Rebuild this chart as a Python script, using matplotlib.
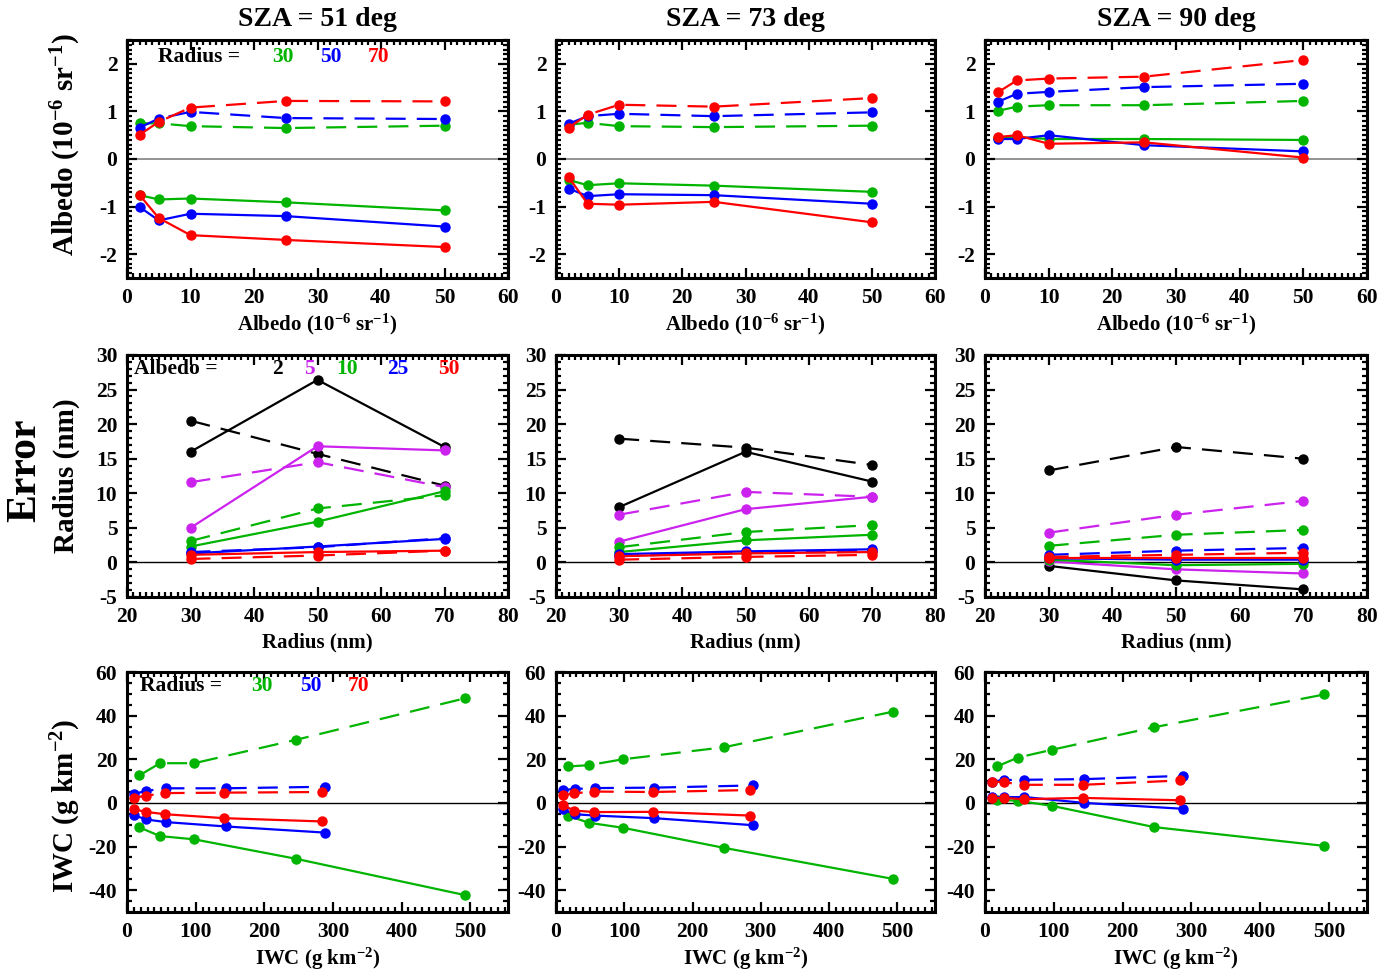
import matplotlib
matplotlib.use('Agg')
import matplotlib.pyplot as plt
from matplotlib.ticker import MultipleLocator

plt.rcParams['font.family'] = ['Liberation Serif', 'DejaVu Serif']
plt.rcParams['font.weight'] = 'bold'
plt.rcParams['axes.labelweight'] = 'bold'
plt.rcParams['axes.titleweight'] = 'bold'
plt.rcParams['mathtext.fontset'] = 'custom'
plt.rcParams['mathtext.rm'] = 'Liberation Serif:bold'
plt.rcParams['mathtext.bf'] = 'Liberation Serif:bold'
plt.rcParams['mathtext.it'] = 'Liberation Serif:bold:italic'
plt.rcParams['axes.unicode_minus'] = False

# ---- data ----
sza_titles = ['SZA = 51 deg', 'SZA = 73 deg', 'SZA = 90 deg']

# top row: error vs albedo, one list per radius (30, 50, 70)
albedo_x = [2, 5, 10, 25, 50]
alb51_dash = [[0.75, 0.75, 0.69, 0.65, 0.70],
              [0.66, 0.85, 0.99, 0.86, 0.84],
              [0.51, 0.78, 1.08, 1.22, 1.21]]
alb51_solid = [[-0.76, -0.85, -0.83, -0.91, -1.08],
               [-1.01, -1.29, -1.15, -1.20, -1.42],
               [-0.76, -1.24, -1.60, -1.70, -1.85]]
alb73_dash = [[0.72, 0.76, 0.69, 0.67, 0.70],
              [0.74, 0.90, 0.95, 0.90, 0.98],
              [0.66, 0.93, 1.14, 1.10, 1.28]]
alb73_solid = [[-0.44, -0.55, -0.51, -0.56, -0.69],
               [-0.62, -0.78, -0.74, -0.76, -0.94],
               [-0.38, -0.94, -0.96, -0.90, -1.33]]
alb90_dash = [[1.01, 1.10, 1.13, 1.13, 1.22],
              [1.20, 1.37, 1.41, 1.51, 1.58],
              [1.40, 1.65, 1.69, 1.73, 2.08]]
alb90_solid = [[0.44, 0.46, 0.42, 0.42, 0.40],
               [0.42, 0.42, 0.50, 0.29, 0.16],
               [0.46, 0.50, 0.32, 0.35, 0.03]]

# middle row: error vs radius, one list per albedo (2, 5, 10, 25, 50)
radius_x = [30, 50, 70]
rad51_dash = [[20.5, 15.7, 11.1], [11.6, 14.5, 10.9], [3.1, 7.8, 9.7],
              [1.5, 2.2, 3.5], [0.5, 1.0, 1.7]]
rad51_solid = [[16.0, 26.4, 16.7], [5.0, 16.8, 16.2], [2.3, 5.9, 10.3],
               [1.3, 2.3, 3.4], [1.1, 1.5, 1.7]]
rad73_dash = [[17.9, 16.6, 14.1], [6.9, 10.2, 9.5], [2.2, 4.4, 5.4],
              [0.9, 1.5, 1.7], [0.4, 0.8, 1.1]]
rad73_solid = [[8.0, 16.0, 11.7], [3.0, 7.7, 9.5], [1.5, 3.2, 4.0],
               [1.2, 1.6, 1.9], [0.9, 1.3, 1.5]]
rad90_dash = [[13.3, 16.7, 15.0], [4.3, 6.9, 8.9], [2.4, 4.0, 4.7],
              [1.1, 1.7, 2.1], [0.8, 1.1, 1.4]]
rad90_solid = [[-0.5, -2.6, -3.9], [0.15, -1.0, -1.6], [0.4, -0.4, -0.2],
               [0.6, 0.4, 0.4], [0.7, 0.7, 0.7]]

# bottom row: error vs IWC, one list per radius (30, 50, 70)
iwc_x = [[18, 48, 98, 246, 493],
         [10, 28, 57, 144, 288],
         [10, 27, 56, 142, 284]]
iwc51_dash = [[12.6, 18.2, 18.2, 28.9, 48.0],
              [4.1, 5.5, 6.7, 6.7, 7.4],
              [2.3, 3.3, 4.5, 4.7, 5.0]]
iwc51_solid = [[-11.2, -15.2, -16.7, -25.6, -42.3],
               [-5.6, -7.6, -8.8, -10.8, -13.6],
               [-2.9, -4.1, -5.2, -7.0, -8.5]]
iwc73_dash = [[16.7, 17.3, 20.0, 25.5, 41.8],
              [5.9, 6.4, 6.8, 7.0, 8.0],
              [3.5, 4.4, 5.2, 5.0, 5.9]]
iwc73_solid = [[-5.9, -9.1, -11.4, -20.6, -34.8],
               [-3.0, -5.2, -5.8, -7.0, -10.2],
               [-1.1, -3.5, -4.2, -4.1, -5.8]]
iwc90_dash = [[16.8, 20.8, 24.4, 34.7, 49.7],
              [9.8, 10.5, 10.6, 10.9, 12.4],
              [9.8, 9.5, 8.3, 8.3, 10.3]]
iwc90_solid = [[1.4, 1.0, -1.4, -11.1, -19.7],
               [2.6, 2.6, 2.7, 0.0, -2.7],
               [2.3, 2.3, 1.7, 2.3, 1.2]]

rad_colors = ['#00B400', '#0000FF', '#FF0000']
alb_colors = ['#000000', '#CC22EE', '#00B400', '#0000FF', '#FF0000']
rad_labels = ['30', '50', '70']
alb_labels = ['2', '5', '10', '25', '50']

W, H = 1396, 975
fig = plt.figure(figsize=(W / 100, H / 100), dpi=100)

cols_px = [(127, 508), (556, 935), (985, 1367)]
rows_px = [(40, 278), (355, 597), (672, 912)]


def make_ax(r, c):
    x0, x1 = cols_px[c]
    y0, y1 = rows_px[r]
    ax = fig.add_axes([x0 / W, 1 - y1 / H, (x1 - x0) / W, (y1 - y0) / H])
    for s in ax.spines.values():
        s.set_linewidth(2.2)
    ax.tick_params(which='both', direction='in', top=True, right=True,
                   labelsize=15.5, width=1.6)
    ax.tick_params(which='major', length=7, pad=7)
    ax.tick_params(which='minor', length=3.5)
    return ax


def draw(ax, xs, dash, solid, colors):
    for i, col in enumerate(colors):
        x = xs[i] if isinstance(xs[0], list) else xs
        ax.plot(x, dash[i], color=col, ls=(0, (9, 5)), lw=1.6,
                marker='o', ms=6.5)
        ax.plot(x, solid[i], color=col, ls='-', lw=1.6,
                marker='o', ms=6.5)


def key(ax, x0, y, head, xs, labels, colors):
    ax.text(x0, y, head, transform=ax.transAxes, fontsize=15.5,
            fontweight='bold', va='center', ha='left')
    for xp, lab, col in zip(xs, labels, colors):
        ax.text(xp, y, lab, color=col, transform=ax.transAxes, fontsize=15.5,
                fontweight='bold', va='center', ha='center')


lab_alb = 'Albedo (10$^{-6}$ sr$^{-1}$)'
lab_iwc = 'IWC (g km$^{-2}$)'

top = [(alb51_dash, alb51_solid), (alb73_dash, alb73_solid), (alb90_dash, alb90_solid)]
mid = [(rad51_dash, rad51_solid), (rad73_dash, rad73_solid), (rad90_dash, rad90_solid)]
bot = [(iwc51_dash, iwc51_solid), (iwc73_dash, iwc73_solid), (iwc90_dash, iwc90_solid)]

for c in range(3):
    # top row
    ax = make_ax(0, c)
    ax.axhline(0, color='#808080', lw=1.2, zorder=1)
    draw(ax, albedo_x, top[c][0], top[c][1], rad_colors)
    ax.set_xlim(0, 60)
    ax.set_ylim(-2.5, 2.5)
    ax.xaxis.set_major_locator(MultipleLocator(10))
    ax.xaxis.set_minor_locator(MultipleLocator(1))
    ax.yaxis.set_major_locator(MultipleLocator(1))
    ax.yaxis.set_minor_locator(MultipleLocator(0.1))
    ax.set_xlabel(lab_alb, fontsize=15, labelpad=3)
    ax.set_title(sza_titles[c], fontsize=20, pad=10)
    if c == 0:
        key(ax, 0.081, 0.929, 'Radius =', [0.41, 0.535, 0.66], rad_labels, rad_colors)

    # middle row
    ax = make_ax(1, c)
    ax.axhline(0, color='black', lw=1.0, zorder=1)
    draw(ax, radius_x, mid[c][0], mid[c][1], alb_colors)
    ax.set_xlim(20, 80)
    ax.set_ylim(-5, 30)
    ax.xaxis.set_major_locator(MultipleLocator(10))
    ax.xaxis.set_minor_locator(MultipleLocator(1))
    ax.yaxis.set_major_locator(MultipleLocator(5))
    ax.yaxis.set_minor_locator(MultipleLocator(1))
    ax.set_xlabel('Radius (nm)', fontsize=15, labelpad=4)
    if c == 0:
        key(ax, 0.018, 0.942, 'Albedo =', [0.396, 0.48, 0.577, 0.71, 0.845],
            alb_labels, alb_colors)

    # bottom row
    ax = make_ax(2, c)
    ax.axhline(0, color='black', lw=1.0, zorder=1)
    draw(ax, iwc_x, bot[c][0], bot[c][1], rad_colors)
    ax.set_xlim(0, 555)
    ax.set_ylim(-50, 60)
    ax.xaxis.set_major_locator(MultipleLocator(100))
    ax.xaxis.set_minor_locator(MultipleLocator(10))
    ax.yaxis.set_major_locator(MultipleLocator(20))
    ax.yaxis.set_minor_locator(MultipleLocator(5))
    ax.set_xlabel(lab_iwc, fontsize=15, labelpad=3)
    if c == 0:
        key(ax, 0.034, 0.942, 'Radius =', [0.354, 0.483, 0.609], rad_labels, rad_colors)

fig.text(66 / W, 1 - 145 / H, lab_alb, rotation=90, fontsize=21,
         ha='center', va='center')
fig.text(66 / W, 1 - 476 / H, 'Radius (nm)', rotation=90, fontsize=21,
         ha='center', va='center')
fig.text(66 / W, 1 - 806 / H, lab_iwc, rotation=90, fontsize=21,
         ha='center', va='center')
fig.text(25 / W, 1 - 470 / H, 'Error', rotation=90, fontsize=30,
         ha='center', va='center')

fig.savefig('out.png', dpi=100)
